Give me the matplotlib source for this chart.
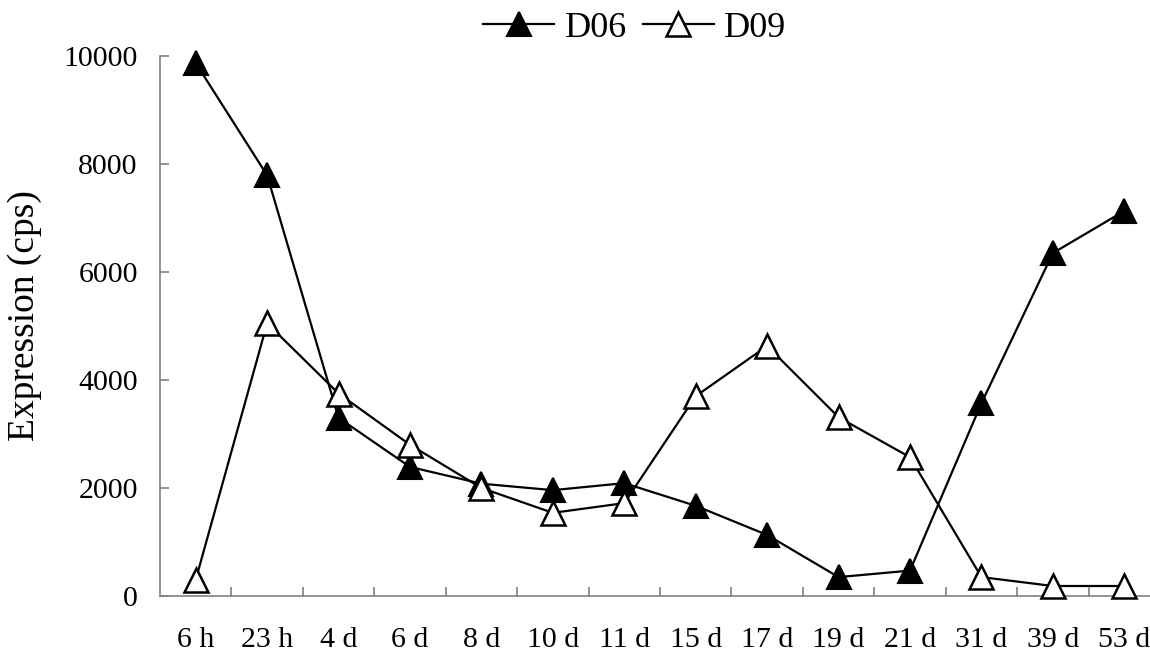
import matplotlib
matplotlib.use("Agg")
import matplotlib.pyplot as plt
import numpy as np

categories = ["6 h", "23 h", "4 d", "6 d", "8 d", "10 d", "11 d", "15 d",
              "17 d", "19 d", "21 d", "31 d", "39 d", "53 d"]
d06 = [9870, 7790, 3300, 2390, 2080, 1960, 2090, 1670, 1130, 350, 470, 3570, 6350, 7130]
d09 = [300, 5050, 3750, 2800, 2000, 1540, 1720, 3700, 4630, 3310, 2570, 350, 185, 185]
yticks = [0, 2000, 4000, 6000, 8000, 10000]

serif = ["Liberation Serif", "DejaVu Serif"]
plt.rcParams["font.family"] = serif

fig = plt.figure(figsize=(11.5, 6.53), dpi=100)
W, H = 1150, 653
left_px, right_px, bottom_px, top_px = 160, 1160, 596, 56
ax = fig.add_axes([left_px / W, 1 - bottom_px / H,
                   (right_px - left_px) / W, (bottom_px - top_px) / H])

x = np.arange(len(categories))
ax.plot(x, d06, color="black", lw=1.6, marker="^", ms=17, mfc="black",
        mec="black", mew=1.5, label="D06", clip_on=False, zorder=3)
ax.plot(x, d09, color="black", lw=1.6, marker="^", ms=17, mfc="white",
        mec="black", mew=1.8, label="D09", clip_on=False, zorder=3)

ax.set_xlim(-0.5, len(categories) - 0.5)
ax.set_ylim(0, 10000)
ax.set_yticks(yticks)
ax.set_yticklabels([str(v) for v in yticks])
ax.set_xticks(x)
ax.set_xticklabels(categories)
ax.set_xticks(np.arange(0.5, len(categories) - 0.5, 1), minor=True)

for s in ["top", "right"]:
    ax.spines[s].set_visible(False)
for s in ["left", "bottom"]:
    ax.spines[s].set_color("#808080")
    ax.spines[s].set_linewidth(1.2)

ax.tick_params(axis="x", which="major", length=0, pad=22, labelsize=21.5)
ax.tick_params(axis="x", which="minor", direction="in", length=6.5,
               color="#808080", width=1.2)
ax.tick_params(axis="y", which="major", direction="in", length=6.5,
               color="#808080", width=1.2, pad=16, labelsize=21.5)

fig.text(25 / W, 1 - 316 / H, "Expression (cps)", rotation=90,
         ha="center", va="center", fontsize=27)

fig.legend(loc="center", bbox_to_anchor=(635 / W, 1 - 28 / H),
           ncol=2, frameon=False, fontsize=26, handlelength=1.95,
           handletextpad=0.3, columnspacing=0.45, borderpad=0, borderaxespad=0)

fig.savefig("out.png", dpi=100)
